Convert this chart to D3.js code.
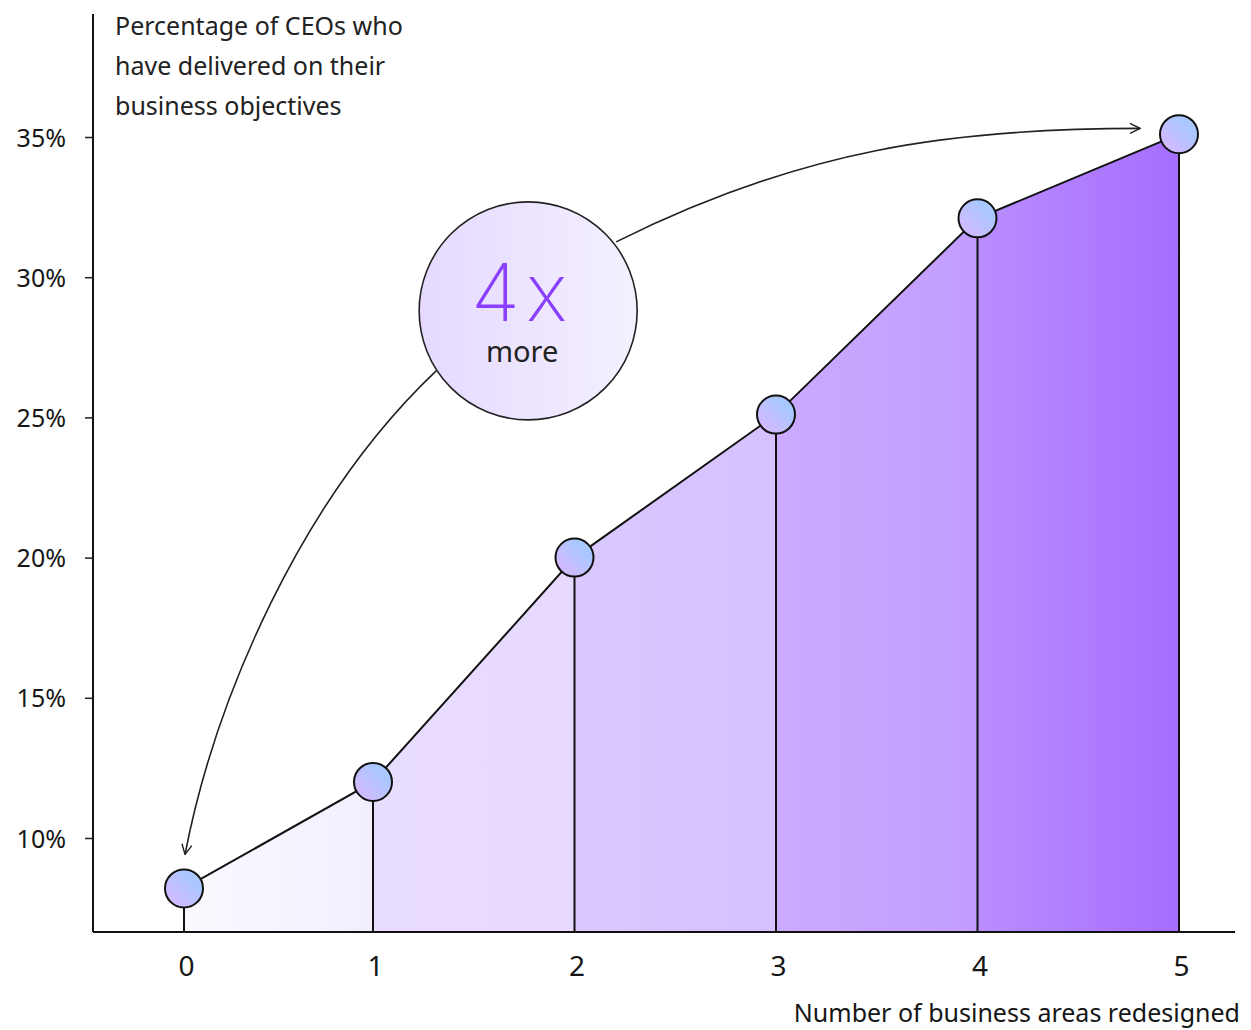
<!DOCTYPE html>
<html>
<head>
<script src="https://cdn.jsdelivr.net/npm/d3@7"></script>
<style>
  body { margin: 0; background: #fff; }
  text { font-family: "Noto Sans", sans-serif; fill: #161616; }
</style>
</head>
<body>
<script>
// data
var areas = [0, 1, 2, 3, 4, 5];
var pct = [8.2, 12.0, 20.0, 25.1, 32.1, 35.1];
var yTicks = [10, 15, 20, 25, 30, 35];
var titleLines = ["Percentage of CEOs who", "have delivered on their", "business objectives"];
var xTitle = "Number of business areas redesigned";
var bandStart = ["#fbf9ff", "#e9ddff", "#dac8ff", "#caabff", "#ba8dff"];
var bandEnd = ["#f3eeff", "#e7d9ff", "#d5c1ff", "#c29dff", "#a56eff"];

var W = 1251, H = 1030;
var svg = d3.select("body").append("svg").attr("width", W).attr("height", H);

// first step is a bit narrower than the rest in the original
var x = d3.scaleLinear().domain([0, 1, 5]).range([184, 373, 1179]);
var y = d3.scaleLinear().domain([10, 35]).range([838, 137]);
var axisY = 932, axisX = 93;

var defs = svg.append("defs");
bandStart.forEach(function(c, i) {
  var g = defs.append("linearGradient").attr("id", "band" + i)
    .attr("x1", 0).attr("y1", 0).attr("x2", 1).attr("y2", 0);
  g.append("stop").attr("offset", 0).attr("stop-color", c);
  g.append("stop").attr("offset", 1).attr("stop-color", bandEnd[i]);
});
var dot = defs.append("linearGradient").attr("id", "dot")
  .attr("x1", 0).attr("y1", 1).attr("x2", 1).attr("y2", 0);
dot.append("stop").attr("offset", 0.1).attr("stop-color", "#d8b8ff");
dot.append("stop").attr("offset", 0.75).attr("stop-color", "#a8c8ff");
var bub = defs.append("linearGradient").attr("id", "bub")
  .attr("x1", 0).attr("y1", 0).attr("x2", 1).attr("y2", 0);
bub.append("stop").attr("offset", 0).attr("stop-color", "#e6d9ff");
bub.append("stop").attr("offset", 1).attr("stop-color", "#f4f0ff");
defs.append("marker").attr("id", "arr")
  .attr("viewBox", "0 0 12 12").attr("refX", 11).attr("refY", 6)
  .attr("markerWidth", 12).attr("markerHeight", 12)
  .attr("markerUnits", "userSpaceOnUse").attr("orient", "auto")
  .append("path").attr("d", "M1,1 L11,6 L1,11")
  .attr("fill", "none").attr("stroke", "#222").attr("stroke-width", 1.4);

// bands under the line
var pts = areas.map(function(a, i) { return [a, pct[i]]; });
var area = d3.area().x(function(d) { return x(d[0]); }).y0(axisY).y1(function(d) { return y(d[1]); });
for (var i = 0; i < pts.length - 1; i++) {
  svg.append("path").datum([pts[i], pts[i + 1]])
    .attr("d", area).attr("fill", "url(#band" + i + ")");
}

// drop lines
svg.selectAll(".drop").data(pts).enter().append("line")
  .attr("x1", function(d) { return x(d[0]); }).attr("x2", function(d) { return x(d[0]); })
  .attr("y1", function(d) { return y(d[1]); }).attr("y2", axisY)
  .attr("stroke", "#111").attr("stroke-width", 2);

// line
svg.append("path").datum(pts)
  .attr("d", d3.line().x(function(d) { return x(d[0]); }).y(function(d) { return y(d[1]); }))
  .attr("fill", "none").attr("stroke", "#111").attr("stroke-width", 2);

// y axis
var gy = svg.append("g").attr("transform", "translate(" + axisX + ",0)")
  .call(d3.axisLeft(y).tickValues(yTicks).tickSize(8).tickPadding(19)
    .tickFormat(function(d) { return d + "%"; }));
gy.select(".domain").remove();
gy.selectAll(".tick line").attr("stroke", "#222").attr("stroke-width", 1.5);
gy.selectAll(".tick text").style("font-size", "25px").attr("fill", "#161616")
  .style("font-family", "Noto Sans, sans-serif").attr("dy", "0.36em");
svg.append("line").attr("x1", axisX).attr("x2", axisX).attr("y1", 14).attr("y2", axisY)
  .attr("stroke", "#111").attr("stroke-width", 2);

// x axis
var gx = svg.append("g").attr("transform", "translate(0," + axisY + ")")
  .call(d3.axisBottom(x).tickValues(areas).tickSize(0).tickPadding(24).tickFormat(d3.format("d")));
gx.select(".domain").remove();
gx.selectAll(".tick text").style("font-size", "28px").attr("fill", "#161616")
  .style("font-family", "Noto Sans, sans-serif").attr("dx", 2);
svg.append("line").attr("x1", axisX).attr("x2", 1235).attr("y1", axisY).attr("y2", axisY)
  .attr("stroke", "#111").attr("stroke-width", 2);

// annotation bubble and arrows
var cx = x(1.77), cy = y(28.8), r = 109;
svg.append("path")
  .attr("d", "M" + (cx + 88) + "," + (cy - 69) + " C" + 800 + "," + 150 + " " + 950 + "," + (y(35.2) - 3) + " " + (x(5) - 39) + "," + (y(35.2) - 3))
  .attr("fill", "none").attr("stroke", "#222").attr("stroke-width", 1.6).attr("marker-end", "url(#arr)");
svg.append("path")
  .attr("d", "M" + (cx - 92) + "," + (cy + 60) + " C" + 300 + "," + 500 + " " + 215 + "," + 700 + " " + (x(0) + 1) + "," + (y(pct[0]) - 34))
  .attr("fill", "none").attr("stroke", "#222").attr("stroke-width", 1.6).attr("marker-end", "url(#arr)");
svg.append("circle").attr("cx", cx).attr("cy", cy).attr("r", r)
  .attr("fill", "url(#bub)").attr("stroke", "#222").attr("stroke-width", 1.6);
svg.append("text").attr("x", cx - 6).attr("y", cy + 10).attr("text-anchor", "middle")
  .style("font-family", "Inter, sans-serif").style("font-weight", 200).style("font-size", "80px")
  .style("letter-spacing", "6px")
  .style("fill", "#8a3ffc").text("4x");
svg.append("text").attr("x", cx - 6).attr("y", cy + 51).attr("text-anchor", "middle")
  .style("font-size", "29px").style("fill", "#222").text("more");

// dots
svg.selectAll(".dot").data(pts).enter().append("circle")
  .attr("cx", function(d) { return x(d[0]); }).attr("cy", function(d) { return y(d[1]); })
  .attr("r", 19).attr("fill", "url(#dot)").attr("stroke", "#111").attr("stroke-width", 2);

// titles
svg.append("g").selectAll("text").data(titleLines).enter().append("text")
  .attr("x", 115).attr("y", function(d, i) { return 35 + i * 40; })
  .style("font-size", "25px").style("fill", "#222").text(function(d) { return d; });
svg.append("text").attr("x", 1240).attr("y", 1022).attr("text-anchor", "end")
  .style("font-size", "25px").text(xTitle);
</script>
</body>
</html>
